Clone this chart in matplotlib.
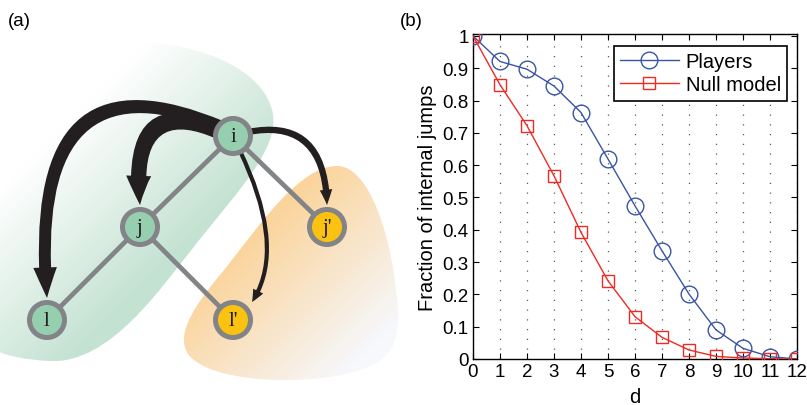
import numpy as np
import matplotlib
matplotlib.use("Agg")
import matplotlib.pyplot as plt
from matplotlib.path import Path
from matplotlib.patches import PathPatch, Circle, FancyArrowPatch, ArrowStyle
from matplotlib.colors import to_rgb

plt.rcParams['font.family'] = ['Liberation Sans', 'DejaVu Sans']

# ---- panel (b) data ----
d = [0, 1, 2, 3, 4, 5, 6, 7, 8, 9, 10, 11, 12]
players = [1.0, 0.921, 0.897, 0.845, 0.763, 0.619, 0.474, 0.335, 0.201, 0.090, 0.033, 0.007, 0.0]
null_model = [1.0, 0.849, 0.722, 0.567, 0.392, 0.242, 0.131, 0.067, 0.028, 0.008, 0.003, 0.001, 0.0]

# ---- panel (a) network ----
node_names = ['i', 'j', "j'", 'l', "l'"]
node_xy = {'i': (233, 137), 'j': (140, 228), "j'": (327, 228), 'l': (47, 321), "l'": (233, 321)}
node_color = {'i': '#96cfb0', 'j': '#96cfb0', 'l': '#96cfb0', "j'": '#fcc211', "l'": '#fcc211'}
edges = [('i', 'j'), ('i', "j'"), ('j', 'l'), ('j', "l'")]
# jumps from i: (target, start, control, tip, tail width, head width, head length) in px / pt
jumps = [
    ('l', (222, 128), (25, 45), (47, 299), 8.6, 17, 22),
    ('j', (220, 133), (128, 92), (140, 206), 11.0, 18, 21),
    ("j'", (248, 133), (325, 118), (327, 206), 4.5, 9, 11),
    ("l'", (240, 152), (287, 250), (252, 303), 3.0, 8, 9),
]

fig = plt.figure(figsize=(8.07, 4.06), dpi=100)

# ================= panel (a) =================
ax0 = fig.add_axes([0, 0, 400 / 807, 1])
ax0.set_xlim(0, 400)
ax0.set_ylim(406, 0)
ax0.axis('off')

yy, xx = np.mgrid[0:406, 0:400]


def gradient(c0, c1, t):
    c0 = np.array(to_rgb(c0))
    c1 = np.array(to_rgb(c1))
    t = np.clip(t, 0, 1)[..., None]
    return c0 * (1 - t) + c1 * t


green_path = Path(
    [(0, 200), (40, 130), (90, 45), (140, 43), (200, 45), (265, 70), (273, 115),
     (278, 150), (240, 190), (200, 240), (160, 290), (110, 365), (50, 362),
     (25, 361), (5, 356), (0, 353), (0, 200)],
    [Path.MOVETO] + [Path.CURVE4] * 15 + [Path.CLOSEPOLY])
orange_path = Path(
    [(337, 167), (370, 167), (392, 240), (397, 300), (402, 350), (390, 368), (330, 378),
     (270, 386), (205, 378), (188, 355), (175, 335), (195, 305), (225, 270),
     (260, 225), (300, 167), (337, 167), (337, 167)],
    [Path.MOVETO] + [Path.CURVE4] * 15 + [Path.CLOSEPOLY])

for pth, img in [
        (green_path, gradient('#ffffff', '#c4e2d2', ((xx + yy) - 190) / 240.0)),
        (orange_path, gradient('#fbd49c', '#f6f8fc', ((xx + yy) - 490) / 230.0))]:
    patch = PathPatch(pth, facecolor='none', edgecolor='none')
    ax0.add_patch(patch)
    im = ax0.imshow(img, extent=(0, 400, 406, 0), origin='upper', aspect='auto', zorder=1)
    im.set_clip_path(patch)

for a, b in edges:
    (x1, y1), (x2, y2) = node_xy[a], node_xy[b]
    ax0.plot([x1, x2], [y1, y2], color='#838487', lw=3.4, zorder=2, solid_capstyle='butt')

for tgt, p0, c, p1, tw, hw, hl in jumps:
    arr = FancyArrowPatch(path=Path([p0, c, p1], [Path.MOVETO, Path.CURVE3, Path.CURVE3]),
                          arrowstyle=ArrowStyle.Simple(head_length=hl, head_width=hw, tail_width=tw),
                          facecolor='#231f20', edgecolor='none', zorder=3)
    ax0.add_patch(arr)

for n in node_names:
    x, y = node_xy[n]
    ax0.add_patch(Circle((x, y), 17.5, facecolor=node_color[n], edgecolor='#838487',
                         lw=3.6, zorder=4))
    ax0.text(x, y + 1, n, ha='center', va='center', fontsize=15,
             family=['Liberation Serif', 'DejaVu Serif'], color='#231f20', zorder=5)

fig.text(8 / 807, 1 - 21 / 406, '(a)', fontsize=13.5, va='center', ha='left')

# ================= panel (b) =================
ax = fig.add_axes([473 / 807, 1 - 360 / 406, 324 / 807, 325 / 406])
ax.plot(d, players, '-o', color='#3a54a4', lw=1.0, ms=12, mfc='none', mew=1.0,
        label='Players', zorder=3)
ax.plot(d, null_model, '-s', color='#ee2a24', lw=1.0, ms=9, mfc='none', mew=1.0,
        label='Null model', zorder=3)

ax.set_xlim(0, 12)
ax.set_ylim(0, 1.006)
ax.set_xticks(d)
ax.set_yticks(np.arange(0, 11) / 10)
ax.set_yticklabels(['0', '0.1', '0.2', '0.3', '0.4', '0.5', '0.6', '0.7', '0.8', '0.9', '1'])
ax.tick_params(direction='in', length=4, width=0.8, top=True, right=True,
               labelsize=13.5, pad=3)
ax.xaxis.grid(True, linestyle=(0, (1, 6.8)), color='0.35', lw=0.9)
for s in ax.spines.values():
    s.set_linewidth(1.0)
ax.set_ylabel('Fraction of internal jumps', fontsize=14.5, labelpad=4)
ax.set_xlabel('d', fontsize=14.5, labelpad=5)

leg = ax.legend(loc='upper right', bbox_to_anchor=(0.969, 0.963), fontsize=14.5,
                handlelength=2.9, handletextpad=0.35, labelspacing=0.22,
                borderpad=0.3, borderaxespad=0, fancybox=False, framealpha=1)
leg.get_frame().set_edgecolor('black')
leg.get_frame().set_linewidth(1.2)

fig.text(400 / 807, 1 - 21 / 406, '(b)', fontsize=13.5, va='center', ha='left')

fig.savefig('out.png', dpi=100)
